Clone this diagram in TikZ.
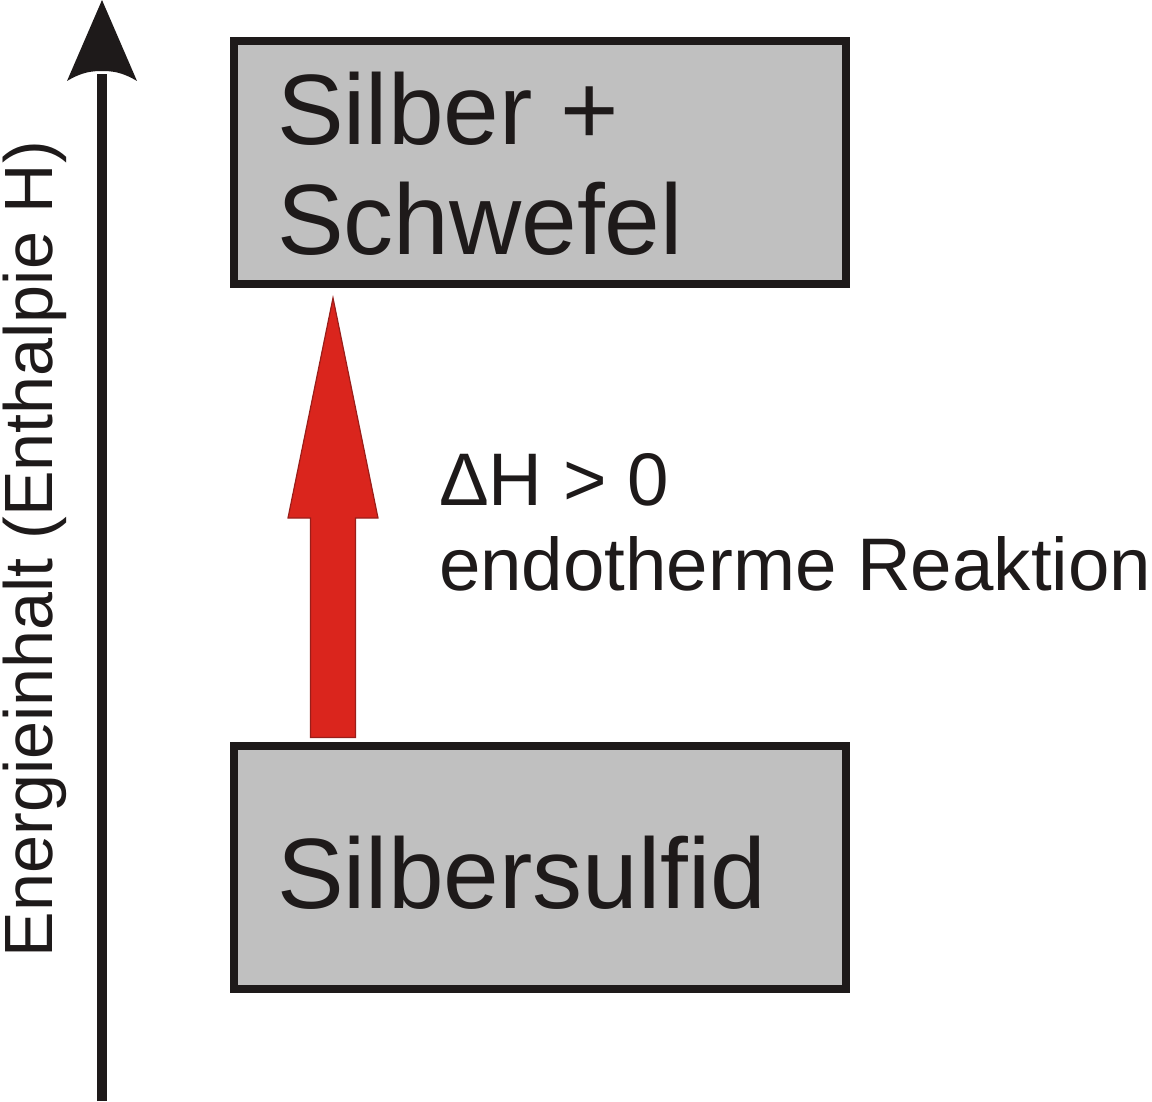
\documentclass[tikz,border=0pt]{standalone}
\usepackage{fontspec}
\setmainfont{Liberation Sans}
\usetikzlibrary{calc}
\definecolor{ink}{HTML}{1E1A1A}
\definecolor{boxgray}{HTML}{C0C0C0}
\definecolor{arrowred}{HTML}{DA251D}
\definecolor{arrowedge}{HTML}{9A1E1A}
\begin{document}
\begin{tikzpicture}[x=1pt,y=-1pt,
  every node/.style={inner sep=0pt,outer sep=0pt,text=ink},
  levelbox/.style={draw=ink,fill=boxgray,line width=7.5pt,minimum width=612pt,minimum height=243pt,anchor=north west},
  bigtext/.style={anchor=base west,font=\fontsize{100}{110}\selectfont},
  midtext/.style={anchor=base west,font=\fontsize{74.5}{85}\selectfont},
  axistext/.style={anchor=base west,rotate=90,font=\fontsize{68.3}{80}\selectfont}]
\useasboundingbox (0,0) rectangle (1152,1102);
% axis
\coordinate (axbot) at (102,1101);
\coordinate (axtop) at (102,0);
\draw[ink,line width=10.5pt] (axbot) -- (102,74);
\fill[ink] (axtop) -- (137,81) .. controls (122,72) and (112,71) .. (102,71)
  .. controls (92,71) and (82,72) .. (67,81) -- cycle;
\node[axistext] (axlabel) at (52,957) {Energieinhalt (Enthalpie H)};
% boxes
\node[levelbox] (upper) at (234,41) {};
\node[levelbox] (lower) at (234,746) {};
\node[bigtext] (t1) at (277,145) {Silber +};
\node[bigtext] (t2) at (277,255) {Schwefel};
\node[bigtext] (t3) at (277,908) {Silbersulfid};
% red arrow
\coordinate (rs) at (333,737.5);
\coordinate (rt) at (333,298);
\filldraw[fill=arrowred,draw=arrowedge,line width=1.2pt,line join=miter]
  ($(rs)+(-22.5,0)$) -- ($(rs)+(22.5,0)$) -- (355.5,518) -- (378,518) -- (rt)
  -- (288,518) -- (310.5,518) -- cycle;
\node[midtext] (dh) at (439,505) {ΔH > 0};
\node[midtext] (endo) at (439,590) {endotherme Reaktion};
\end{tikzpicture}
\end{document}
